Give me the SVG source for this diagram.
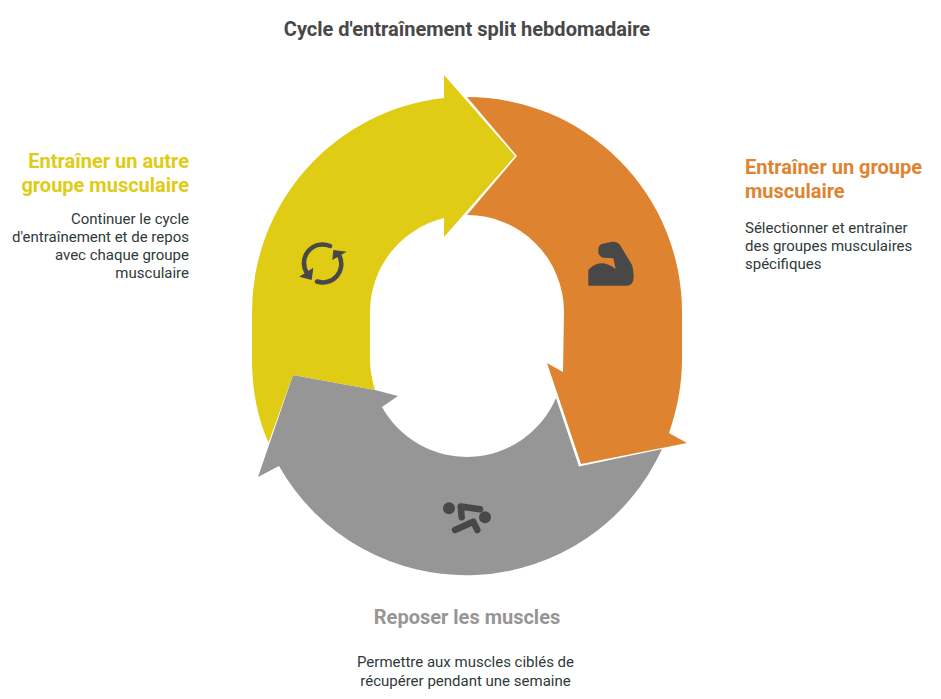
<svg xmlns="http://www.w3.org/2000/svg" width="941" height="699" viewBox="0 0 941 699">
<style>
text{font-family:Roboto,"Liberation Sans",sans-serif}
.t{font-size:20px;font-weight:700;fill:#484848}
.h{font-size:20px;font-weight:700}
.d{font-size:15px;fill:#2f3a3a}
.e{text-anchor:end}
.m{text-anchor:middle}
.i{fill:#484848}
.s{fill:none;stroke:#484848;stroke-linecap:round;stroke-linejoin:round}
</style>
<rect width="941" height="699" fill="#fff"/>
<text class="t m" x="467" y="36">Cycle d'entraînement split hebdomadaire</text>
<g id="connectors">
<path id="arrow-gray" fill="#969696" d="M293,375 L375,390 L398,396 L382,407 A97,97 0 0 0 556,398 L579,466.500 L662,449 A215,215 0 0 1 279,466 L258,477 Z"/>
<path id="arrow-orange" fill="#de8431" d="M467,97 A215,215 0 0 1 682,312 L682,360 C682,385 677,410 669,433 L687,443 L581,464 L547,363 L563,372 L564,312 A97,97 0 0 0 467,215 L517,156 Z"/>
<path id="arrow-yellow" fill="#e0cb15" d="M444,75 L515,156 L444,237 L444,218 A97,97 0 0 0 370,312 L370,360 C370,370 372,380 375,390 L293,375 L268.500,442.500 C257,417 252,388 252,360 L252,312 A215,215 0 0 1 444,98 Z"/>
</g>
<g id="node-orange">
<path class="i" d="M588.300,285.700 L588.300,270 C592,266 597,263.300 601.700,263.300 C607,263.300 611,266 615.700,269 L613.300,258.300 L603.300,257.700 C600,257 598.300,254 598.300,251.700 C598.300,247 599,245 601.700,244 L612,241.700 C616,241.300 618.500,243 620,245 L632,265 C633.500,270 634,276 633.300,280 C632.500,284 630,285.700 626.700,285.700 Z"/>
<text class="h" x="745" y="174" fill="#de8431">Entraîner un groupe</text>
<text class="h" x="745" y="198" fill="#de8431">musculaire</text>
<text class="d" x="745" y="233">Sélectionner et entraîner</text>
<text class="d" x="745" y="251">des groupes musculaires</text>
<text class="d" x="745" y="269">spécifiques</text>
</g>
<g id="node-yellow">
<path class="s" stroke-width="4.500" d="M330,246 A18.500,18.500 0 0 0 307,273"/>
<path class="i" d="M299.300,276.700 L313.300,267.700 L311.700,280 Z"/>
<path class="s" stroke-width="4.500" d="M317,281.500 A18.500,18.500 0 0 0 339.500,256"/>
<path class="i" d="M333.300,250 L346.700,251.700 L332.300,260 Z"/>
<text class="h e" x="189" y="168" fill="#e0cb15">Entraîner un autre</text>
<text class="h e" x="189" y="192" fill="#e0cb15">groupe musculaire</text>
<text class="d e" x="189" y="224">Continuer le cycle</text>
<text class="d e" x="189" y="242">d'entraînement et de repos</text>
<text class="d e" x="189" y="260">avec chaque groupe</text>
<text class="d e" x="189" y="278">musculaire</text>
</g>
<g id="node-gray">
<circle class="i" cx="449" cy="508.300" r="6"/>
<circle class="i" cx="485" cy="517.300" r="6"/>
<path class="s" stroke-width="6.500" d="M461.700,517.300 L460.700,506.500 L480,509.300"/>
<path class="s" stroke-width="6.500" d="M455,530 L473.300,521.700 L477.300,530"/>
<text class="h m" x="467" y="624" fill="#969696">Reposer les muscles</text>
<text class="d m" x="465.500" y="667">Permettre aux muscles ciblés de</text>
<text class="d m" x="465.500" y="686">récupérer pendant une semaine</text>
</g>
</svg>
